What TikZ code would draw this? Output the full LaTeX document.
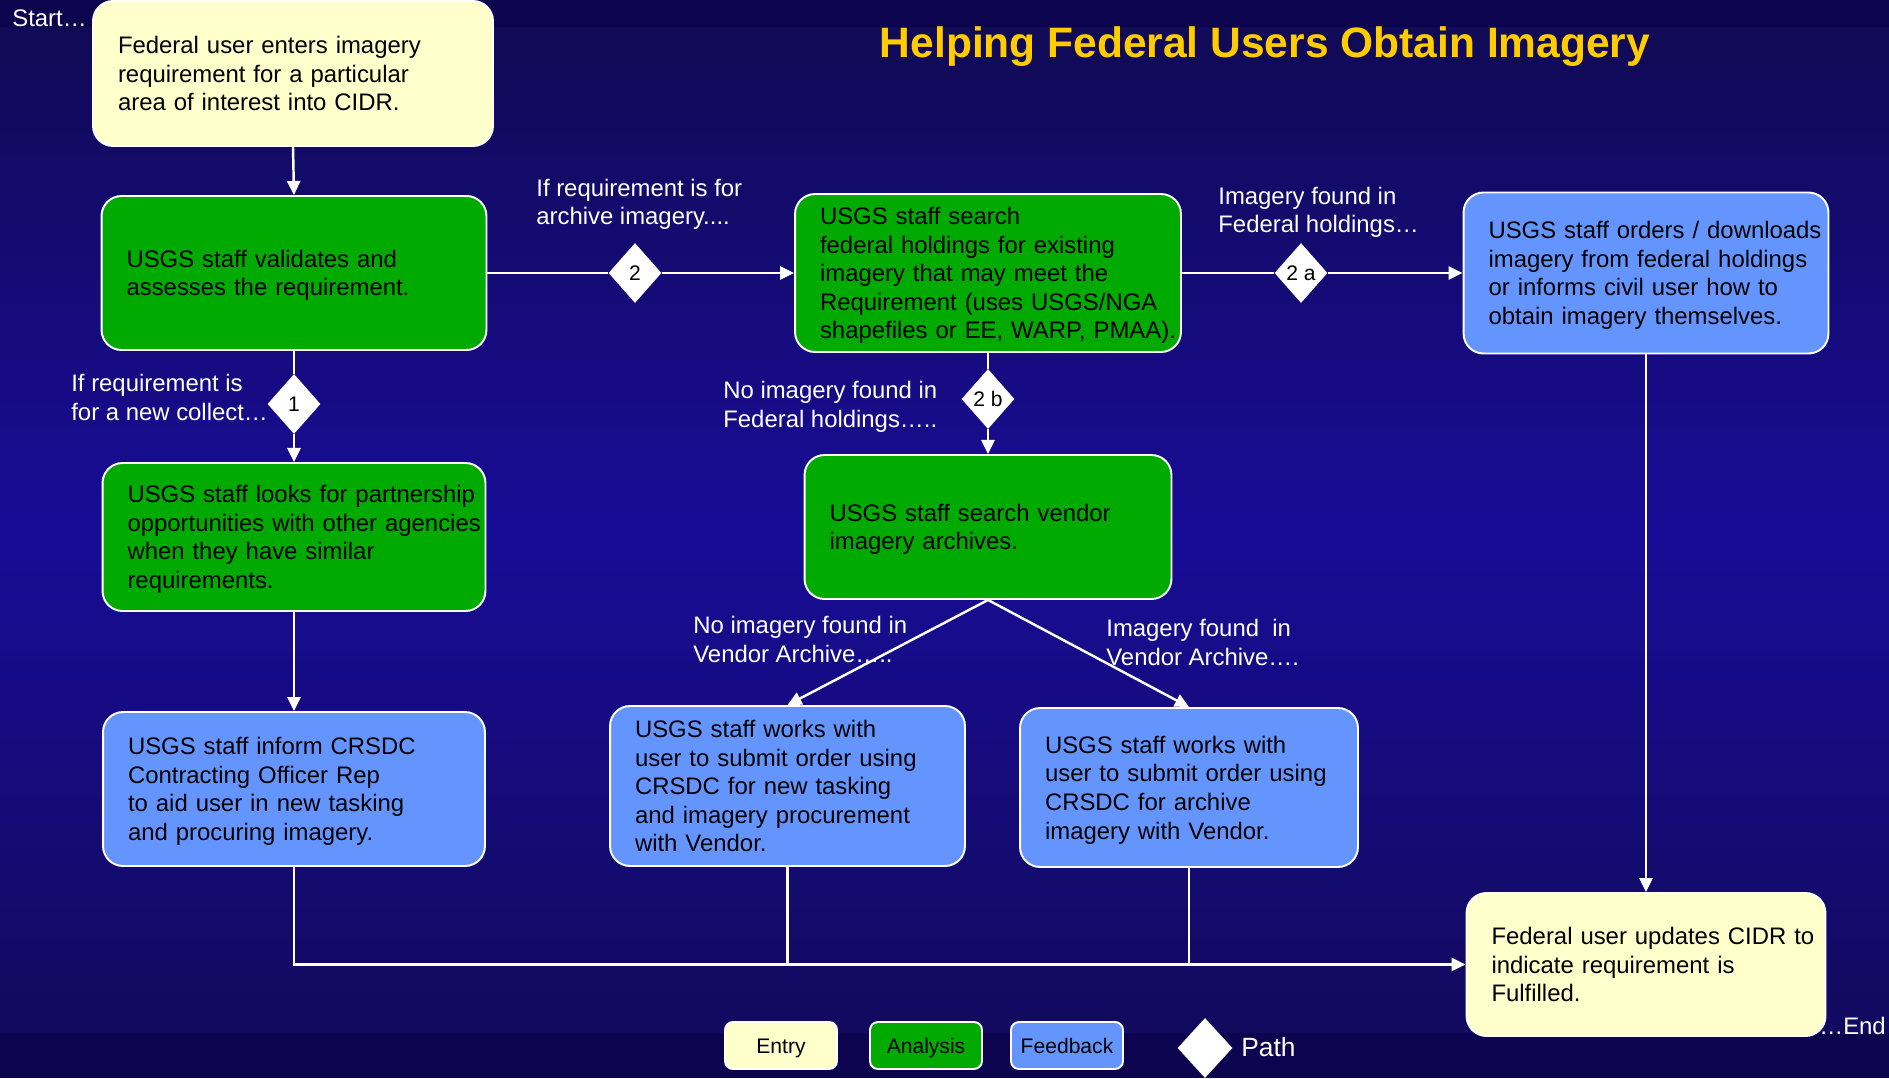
\documentclass[tikz,border=0pt]{standalone}
\usepackage{fontspec}
\setmainfont{Liberation Sans}
\usetikzlibrary{shapes.geometric,arrows.meta}

\definecolor{bgband}{HTML}{0D0450}
\definecolor{bgtop}{HTML}{110A55}
\definecolor{bgmid}{HTML}{180C96}
\definecolor{bgbot}{HTML}{120A5E}
\definecolor{entryfill}{HTML}{FFFFCC}
\definecolor{analysisfill}{HTML}{00AA00}
\definecolor{feedbackfill}{HTML}{6495FF}
\definecolor{titlegold}{HTML}{FFCC00}

\begin{document}
\begin{tikzpicture}[x=0.02cm,y=-0.02cm,
    card/.style={draw=white,line width=1.1pt,rounded corners=0.4cm,align=left,
      inner xsep=0.5cm,inner ysep=0pt,font=\fontsize{13.6}{16.3}\selectfont},
    entry/.style={card,fill=entryfill},
    analysis/.style={card,fill=analysisfill},
    feedback/.style={card,fill=feedbackfill},
    gate/.style={diamond,fill=white,inner sep=0pt,minimum width=1.06cm,
      minimum height=1.2cm,font=\fontsize{12}{14}\selectfont},
    legendbox/.style={rounded corners=0.16cm,minimum width=2.24cm,
      minimum height=0.94cm,inner xsep=0pt,text height=8.6pt,text depth=0pt,
      font=\fontsize{12}{14}\selectfont},
    note/.style={text=white,align=left,inner sep=0pt,anchor=west,
      font=\fontsize{13.6}{16.3}\selectfont},
    link/.style={draw=white,line width=1.4pt},
    arr/.style={link,-{Triangle[length=8pt,width=7.5pt]}}]

  % Background
  \fill[bgband] (0,0) rectangle (1889,1078);
  \shade[top color=bgtop,bottom color=bgbot,middle color=bgmid] (0,28) rectangle (1889,1032);
  \useasboundingbox (0,0) rectangle (1889,1078);

  % Title and ends
  \node[font=\bfseries\fontsize{24.2}{28}\selectfont,text=titlegold] (title) at (1265,47)
    {Helping Federal Users Obtain Imagery};
  \node[note] (start) at (12,18) {Start…};
  \node[note] (finish) at (1819,1026) {…End};

  % Left column
  \node[entry,text width=7cm,minimum height=2.9cm] (e1) at (293,73.5)
    {Federal user enters imagery\\requirement for a particular\\\smash{area of interest into CIDR.}};
  \node[analysis,text width=6.7cm,minimum height=3.08cm] (v1) at (294,273)
    {USGS staff validates and\\\smash{assesses the requirement.}};
  \node[gate] (d1) at (294,404) {1};
  \node[note] (n1) at (71,397.5) {If requirement is\\for a new collect…};
  \node[analysis,text width=6.66cm,minimum height=2.96cm] (p1) at (294,537)
    {\mbox{USGS staff looks for partnership}\\\mbox{opportunities with other agencies}\\when they have similar\\\smash{requirements.}};
  \node[feedback,text width=6.64cm,minimum height=3.08cm] (c1) at (294,789)
    {USGS staff inform CRSDC\\Contracting Officer Rep\\to aid user in new tasking\\\smash{and procuring imagery.}};

  % Archive search
  \node[gate] (d2) at (635,273) {2};
  \node[note] (n2) at (536,204.5) {If requirement is for\\archive imagery....};
  \node[analysis,text width=6.72cm,minimum height=3.16cm] (s1) at (988,273)
    {USGS staff search\\federal holdings for existing\\imagery that may meet the\\\mbox{Requirement (uses USGS/NGA}\\\smash{\mbox{shapefiles or EE, WARP, PMAA).}}};

  % Found in federal holdings
  \node[gate] (d2a) at (1301,273) {2 a};
  \node[note] (n3) at (1218,212.5) {Imagery found in\\Federal holdings…};
  \node[feedback,text width=6.3cm,minimum height=3.22cm] (o1) at (1646,273)
    {\mbox{USGS staff orders / downloads}\\\mbox{imagery from federal holdings}\\or informs civil user how to\\\smash{obtain imagery themselves.}};

  % Not found in federal holdings
  \node[gate] (d2b) at (988,399) {2 b};
  \node[note] (n4) at (723,407) {No imagery found in\\Federal holdings…..};
  \node[analysis,text width=6.34cm,minimum height=2.88cm] (sv) at (988,527)
    {USGS staff search vendor\\\smash{imagery archives.}};
  \node[note] (n5) at (693,639.5) {No imagery found in\\Vendor Archive…..};
  \node[note] (n6) at (1106,642.5) {Imagery found\ \ in\\Vendor Archive….};
  \node[feedback,text width=6.1cm,minimum height=3.2cm] (w1) at (787.5,786)
    {USGS staff works with\\user to submit order using\\CRSDC for new tasking\\and imagery procurement\\\smash{with Vendor.}};
  \node[feedback,text width=5.76cm,minimum height=3.18cm] (w2) at (1189,787.5)
    {USGS staff works with\\user to submit order using\\CRSDC for archive\\\smash{imagery with Vendor.}};

  % Final entry
  \node[entry,text width=6.18cm,minimum height=2.86cm] (e2) at (1646,964.5)
    {\mbox{Federal user updates CIDR to}\\indicate requirement is\\\smash{Fulfilled.}};

  % Connectors
  \draw[arr] (e1.south) -- (v1.north);
  \draw[link] (v1.south) -- (d1.north);
  \draw[arr] (d1.south) -- (p1.north);
  \draw[arr] (p1.south) -- (c1.north);
  \draw[link] (v1.east) -- (d2.west);
  \draw[arr] (d2.east) -- (s1.west);
  \draw[link] (s1.east) -- (d2a.west);
  \draw[arr] (d2a.east) -- (o1.west);
  \draw[link] (s1.south) -- (d2b.north);
  \draw[arr] (d2b.south) -- (sv.north);
  \draw[arr] (sv.south) -- (w1.north);
  \draw[arr] (sv.south) -- (w2.north);
  \draw[arr] (o1.south) -- (e2.north);
  \coordinate (bend) at (c1.south |- e2.west);
  \draw[arr] (c1.south) -- (bend) -- (e2.west);
  \draw[link] (w1.south) -- (w1.south |- e2.west);
  \draw[link] (w2.south) -- (w2.south |- e2.west);

  % Legend
  \node[entry,legendbox] (lg1) at (781,1045.5) {Entry};
  \node[analysis,legendbox] (lg2) at (926,1045.5) {Analysis};
  \node[feedback,legendbox] (lg3) at (1067,1045.5) {Feedback};
  \node[gate,minimum width=1.1cm,minimum height=1.2cm] (lg4) at (1205,1048) {};
  \node[note,font=\fontsize{15}{18}\selectfont] (lg5) at (1241,1047) {Path};
\end{tikzpicture}
\end{document}
